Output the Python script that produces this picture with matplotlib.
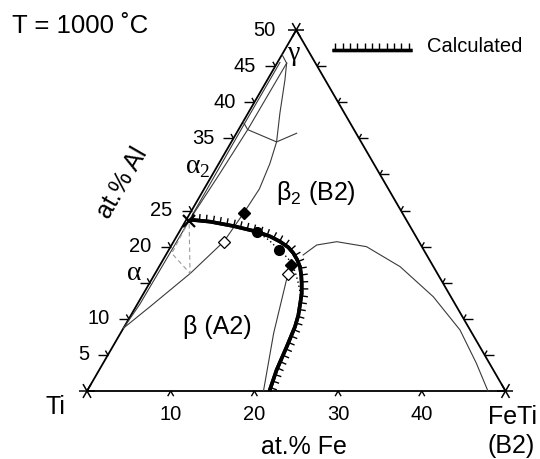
import numpy as np
import matplotlib
matplotlib.use('Agg')
import matplotlib.pyplot as plt
from matplotlib import patheffects as pe

plt.rcParams['font.family'] = ['Liberation Sans', 'DejaVu Sans']
plt.rcParams['mathtext.fontset'] = 'custom'
plt.rcParams['mathtext.rm'] = 'Liberation Sans'

# ---------------- data: compositions (at.% Fe, at.% Al) ----------------
calc_fe = [0.4, 0.7, 3.0, 6.05, 9.24, 11.2, 12.7, 14.1, 15.1, 16.0, 16.85, 17.6,
           18.2, 18.9, 19.4, 20.0, 20.4, 20.8, 21.2, 21.8]
calc_al = [23.6, 23.7, 23.45, 22.85, 22.07, 21.4, 20.7, 19.9, 19.1, 18.2, 17.2, 16.0,
           14.9, 13.5, 12.15, 10.5, 8.9, 6.1, 2.9, 0.0]

dotted_fe = [9.24, 11.3, 13.2, 14.8, 16.05, 17.0, 17.8, 18.4, 18.9]
dotted_al = [22.07, 20.9, 19.5, 18.4, 17.2, 16.0, 14.9, 14.0, 13.2]

# beta / beta2 boundary (through the diamonds, up to the gamma corner)
l1_fe = [0.0, 1.7, 4.2, 6.0, 6.4, 6.6, 6.1, 5.4, 3.8, 2.1, 1.15]
l1_al = [8.7, 11.7, 16.3, 20.7, 24.7, 28.0, 31.5, 34.5, 38.5, 43.1, 45.4]

# lines close to the Ti-Al edge
la_fe = [0.0, 0.3, 0.4, 0.35, 0.3, 0.3]
la_al = [8.7, 12.0, 23.6, 30.0, 37.0, 45.5]
lb_fe = [0.4, 0.8, 1.1, 1.15]
lb_al = [23.6, 30.0, 36.2, 45.4]
conn_fe = [0.0, 1.1, 5.4, 7.2]
conn_al = [37.3, 36.2, 34.5, 35.7]
gam_fe = [1.15, 0.0]
gam_al = [45.4, 46.6]

# thin line from the base to the open diamond
l4_fe = [21.05, 18.3, 15.9]
l4_al = [0.1, 8.0, 16.2]

# B2 dome near FeTi
dome_fe = [16.4, 17.33, 19.5, 23.4, 28.8, 34.84, 40.34, 44.6, 47.9]
dome_al = [18.84, 20.22, 20.68, 19.99, 17.22, 13.06, 8.45, 3.84, 0.0]

# tie triangle (dashed)
tie_fe = [0.4, 0.59, 4.16, 0.4]
tie_al = [23.6, 19.07, 16.3, 23.6]

# experimental points
fdia_fe = [6.4, 15.6]
fdia_al = [24.7, 17.45]
odia_fe = [6.03, 15.88]
odia_al = [20.68, 16.2]
circ_fe = [9.24, 13.2]
circ_al = [22.07, 19.53]
cross_fe = [0.4]
cross_al = [23.6]

al_ticks = [5, 10, 15, 20, 25, 30, 35, 40, 45]
al_labels = ['5', '10', '', '20', '25', '', '35', '40', '45']
fe_ticks = [10, 20, 30, 40]
fe_labels = ['10', '20', '30', '40']


def cart(fe, al):
    fe = np.asarray(fe, float)
    al = np.asarray(al, float)
    return fe + al / 2.0, al


W, H = 540, 459
fig = plt.figure(figsize=(W / 100, H / 100), dpi=100)
ax = fig.add_axes([0, 0, 1, 1])
XL = (-10.394, 54.122)
YL = (-9.418, 54.155)
ax.set_xlim(*XL)
ax.set_ylim(*YL)
ax.axis('off')
SX = W / (XL[1] - XL[0])
SY = H / (YL[1] - YL[0])


def seg(x0, y0, ang, length, lw=1.0):
    a = np.deg2rad(ang)
    x1 = x0 + length * np.cos(a) / SX
    y1 = y0 + length * np.sin(a) / SY
    ax.plot([x0, x1], [y0, y1], color='black', lw=lw, solid_capstyle='butt')


def pline(fe, al, **kw):
    x, y = cart(fe, al)
    ax.plot(x, y, **kw)


# triangle
tx, ty = cart([0, 50, 0, 0], [0, 0, 50, 0])
ax.plot(tx, ty, color='black', lw=1.3)

# corner crosses
for fe, al in [(0, 0), (50, 0), (0, 50)]:
    x, y = cart(fe, al)
    for ang in (0, 60, 120):
        seg(x, y, ang, 8, lw=1.1)
        seg(x, y, ang + 180, 8, lw=1.1)

# left edge ticks and labels
for a, lab in zip(al_ticks, al_labels):
    x, y = cart(0, a)
    if a != 30:
        seg(x, y, 180, 10)
        seg(x, y, 120, 5)
    if lab:
        ax.annotate(lab, (x, y), xytext=(-19, 0), textcoords='offset pixels',
                    ha='right', va='center', fontsize=14.5)
# right edge ticks
for a in al_ticks:
    x, y = cart(50 - a, a)
    seg(x, y, 0, 9)
    seg(x, y, 60, 5)
# bottom ticks and labels
for f, lab in zip(fe_ticks, fe_labels):
    x, y = cart(f, 0)
    seg(x, y, 240, 6)
    seg(x, y, 300, 6)
    ax.annotate(lab, (x, y), xytext=(0, -23), textcoords='offset pixels',
                ha='center', va='center', fontsize=14.5)

thin = dict(color='#3a3a3a', lw=0.8)
pline(l1_fe, l1_al, **thin)
pline(la_fe, la_al, **thin)
pline(lb_fe, lb_al, **thin)
pline(conn_fe, conn_al, **thin)
pline(gam_fe, gam_al, **thin)
pline(l4_fe, l4_al, **thin)
pline(dome_fe, dome_al, **thin)
pline(tie_fe, tie_al, color='#9a9a9a', lw=0.8, dashes=(4, 3))
pline(dotted_fe, dotted_al, color='black', lw=1.0, dashes=(1, 2))

ticked = [pe.withTickedStroke(angle=90, spacing=5.0, length=0.95, linewidth=1.0),
          pe.Normal()]
pline(calc_fe, calc_al, color='black', lw=2.6, solid_capstyle='butt',
      path_effects=ticked)

# markers
pline(fdia_fe, fdia_al, ls='none', marker='D', ms=6.5, mfc='black', mec='black')
pline(odia_fe, odia_al, ls='none', marker='D', ms=6.5, mfc='white', mec='black', mew=0.9)
pline(circ_fe, circ_al, ls='none', marker='o', ms=7, mfc='black', mec='black')
pline(cross_fe, cross_al, ls='none', marker='x', ms=9, mec='black', mew=1.6)

# legend
fig.add_artist(plt.Line2D([332 / W, 412 / W], [1 - 50 / H, 1 - 50 / H],
                          color='black', lw=2.4, solid_capstyle='butt',
                          path_effects=ticked))
fig.text(427 / W, 1 - 46 / H, 'Calculated', fontsize=14.5, va='center', ha='left')


def ftext(x, y, s, **kw):
    kw.setdefault('fontsize', 18)
    kw.setdefault('ha', 'center')
    kw.setdefault('va', 'center')
    fig.text(x / W, 1 - y / H, s, **kw)


ftext(12, 26, 'T = 1000 ˚C', ha='left', fontsize=18.5)
ftext(276, 30, '50', ha='right', fontsize=14.5)
ftext(294, 53, 'γ', family=['Liberation Serif', 'DejaVu Serif'], fontsize=20)
ftext(198, 168, r'α$_\mathregular{2}$', family=['Liberation Serif', 'DejaVu Serif'], fontsize=20)
ftext(134, 274, 'α', family=['Liberation Serif', 'DejaVu Serif'], fontsize=20)
ftext(122, 183, 'at.% Al', rotation=60)
ftext(316, 193, r'β$_\mathregular{2}$ (B2)')
ftext(217, 327, 'β (A2)')
ftext(55, 407, 'Ti')
ftext(512, 417, 'FeTi')
ftext(511, 446, '(B2)')
ftext(304, 447, 'at.% Fe')

fig.savefig('out.png', dpi=100)
